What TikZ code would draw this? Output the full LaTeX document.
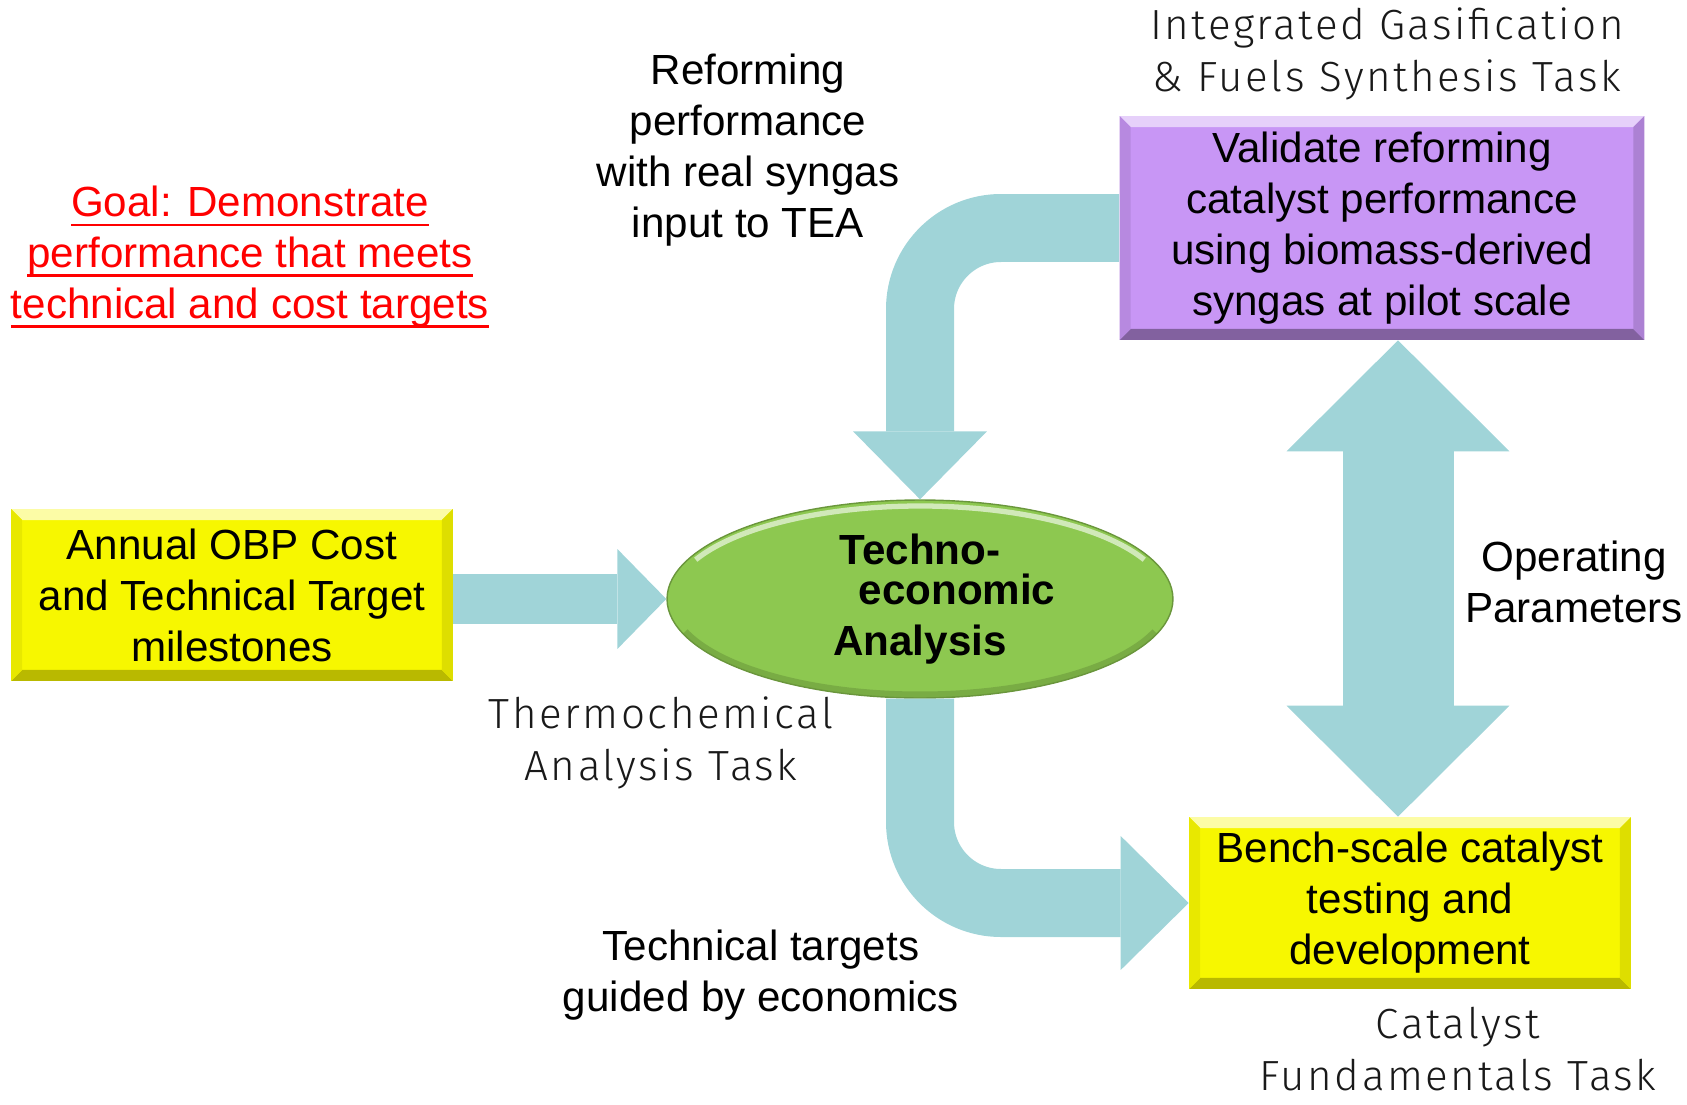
\documentclass[tikz,border=0pt]{standalone}
\usepackage{fontspec}
\setmainfont{Liberation Sans}
\newfontfamily\taskfont{Fira Sans Light}[LetterSpace=6]
\usetikzlibrary{arrows.meta,shapes.geometric}

\definecolor{flowteal}{RGB}{160,212,216}
\definecolor{boxyellow}{RGB}{247,247,0}
\definecolor{boxpurple}{RGB}{200,150,245}
\definecolor{teagreen}{RGB}{141,200,80}

\newcommand\bodytext{\fontsize{24}{29}\selectfont}
\newcommand\bevdepth{0.22cm}
% underlined line of the goal text
\newlength\goalwd
\newcommand\goalul[1]{\settowidth{\goalwd}{#1}\rlap{\rule[-0.22em]{\goalwd}{1.4pt}}#1}

\tikzset{
  % raised box: fill, light edge, dark edge
  plate/.style n args={3}{rectangle, inner sep=0pt, align=center, fill=#1, font=\bodytext,
    path picture={
      \path (path picture bounding box.north west) coordinate (nw)
            (path picture bounding box.north east) coordinate (ne)
            (path picture bounding box.south west) coordinate (sw)
            (path picture bounding box.south east) coordinate (se);
      \fill[#2] (nw) -- (ne) -- ([shift={(-\bevdepth,-\bevdepth)}]ne) -- ([shift={(\bevdepth,-\bevdepth)}]nw) -- cycle;
      \fill[#3] (sw) -- (se) -- ([shift={(-\bevdepth,\bevdepth)}]se) -- ([shift={(\bevdepth,\bevdepth)}]sw) -- cycle;
      \fill[#3!40!#1] (ne) -- (se) -- ([shift={(-\bevdepth,\bevdepth)}]se) -- ([shift={(-\bevdepth,-\bevdepth)}]ne) -- cycle;
      \fill[#3!25!#1] (nw) -- (sw) -- ([shift={(\bevdepth,\bevdepth)}]sw) -- ([shift={(\bevdepth,-\bevdepth)}]nw) -- cycle;
    }},
  note/.style={align=center, font=\bodytext, inner sep=0pt},
  tasklabel/.style={align=center, font=\taskfont\fontsize{24}{29.5}\selectfont, text=black!90, inner sep=0pt},
  flow/.style={draw=flowteal, line cap=butt, line join=miter},
  feedflow/.style={flow, line width=1cm, -{Triangle[length=.98cm, width=2cm, line width=0pt]}},
  bendflow/.style={flow, line width=1.36cm, rounded corners=1.62cm, -{Triangle[length=1.36cm, width=2.68cm, line width=0pt]}},
  linkflow/.style={flow, line width=2.22cm,
    {Triangle[length=2.22cm, width=4.46cm, line width=0pt]}-{Triangle[length=2.22cm, width=4.46cm, line width=0pt]}}
}

\begin{document}
\begin{tikzpicture}[x=0.02cm, y=-0.02cm]
  \useasboundingbox (0,0) rectangle (1687,1105);

  % boxes
  \node[plate={boxyellow}{boxyellow!35!white}{boxyellow!75!black}, minimum width=8.84cm, minimum height=3.44cm]
    (annual) at (232,595) {Annual OBP Cost\\and Technical Target\\milestones};
  \node[plate={boxpurple}{boxpurple!45!white}{boxpurple!65!black}, minimum width=10.5cm, minimum height=4.48cm]
    (reform) at (1382,228) {Validate reforming\\catalyst performance\\using biomass-derived\\syngas at pilot scale};
  \node[plate={boxyellow}{boxyellow!35!white}{boxyellow!75!black}, minimum width=8.84cm, minimum height=3.44cm]
    (bench) at (1410,903) {Bench-scale catalyst\\testing and\\development};

  % TEA in the middle
  \node[ellipse, minimum width=10.12cm, minimum height=3.96cm, inner sep=0pt, fill=teagreen,
    draw=teagreen!75!black, line width=0.8pt, font=\bfseries\bodytext, align=center,
    path picture={
      \draw[white, opacity=.6, line width=3pt]
        ([shift={(155:4.95cm and 1.86cm)}]path picture bounding box.center)
        arc[start angle=155, end angle=25, x radius=4.95cm, y radius=1.86cm];
      \draw[teagreen!60!black, opacity=.35, line width=4pt]
        ([shift={(200:5cm and 1.92cm)}]path picture bounding box.center)
        arc[start angle=200, end angle=340, x radius=5cm, y radius=1.92cm];
    }]
    (tea) at (920,599) {Techno-\\[-6pt]\hspace*{1.48cm}economic\\Analysis};

  % free texts
  \node[note, text=red] (goal) at (250,257)
    {\goalul{Goal: Demonstrate}\\\goalul{performance that meets}\\\goalul{technical and cost targets}};
  \node[note] (realgas) at (748,150) {Reforming\\performance\\with real syngas\\input to TEA};
  \node[note] (targets) at (761,975) {Technical targets\\guided by economics};
  \node[note] (params) at (1574,582) {Operating\\Parameters};

  \node[tasklabel] (gastask) at (1387,54) {Integrated Gasification\\\& Fuels Synthesis Task};
  \node[tasklabel] (thermtask) at (661,743) {Thermochemical\\Analysis Task};
  \node[tasklabel] (cattask) at (1458,1049) {Catalyst\\Fundamentals Task};

  % block arrows
  \coordinate (linkx) at (1398,0);
  \draw[feedflow] (tea.west -| annual.east) -- (tea.west);
  \draw[bendflow] (reform.west) -| (tea.north);
  \draw[bendflow] (tea.south) |- (bench.west);
  \draw[linkflow] (reform.south -| linkx) -- (bench.north -| linkx);
\end{tikzpicture}
\end{document}
